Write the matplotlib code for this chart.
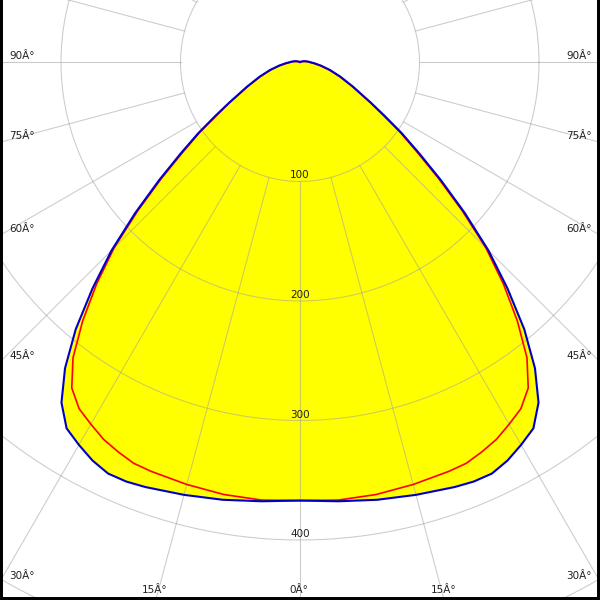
"""
Polar luminous intensity diagram (cd/klm), two C-planes
"""
import numpy as np
import matplotlib
matplotlib.use("Agg")
import matplotlib.pyplot as plt

# gamma angles (deg) and intensities for the two planes
gamma = [0, 5, 10, 15, 20, 22.5, 25, 27.5, 30, 32.5, 35, 37.5, 40, 42.5, 45,
	47.5, 50, 52.5, 55, 57.5, 60, 65, 70, 75, 80, 85, 90, 95, 100, 105, 110, 120, 180]
plane_blue = [367, 369, 372, 375, 378.5, 380, 380, 376, 370, 363.5, 348, 323, 292, 257, 223,
	187, 154, 126, 104, 84, 69, 49, 36, 26, 18, 12, 8, 6, 4, 2, 0, 0, 0]
plane_red = [367, 368, 367.5, 366, 364.5, 363.5, 360, 356, 350, 344, 333, 312, 283, 252, 220,
	184, 151, 123, 102, 82, 68, 48, 35, 25, 17, 11, 7, 5, 3, 1, 0, 0, 0]

ring_values = [100, 200, 300, 400, 500]
ring_labels = ["100", "200", "300", "400"]
label_angles = [0, 15, 30, 45, 60, 75, 90]
angle_labels = ["0Â°", "15Â°", "30Â°", "45Â°", "60Â°", "75Â°", "90Â°"]

px = 1.195  # pixels per cd
xmin, xmax = -300 / px, 300 / px
ymin, ymax = -538 / px, 62 / px


def to_xy(g, r, side):
	g = np.radians(np.asarray(g, dtype=float))
	r = np.asarray(r, dtype=float)
	return side * r * np.sin(g), -r * np.cos(g)


def curve(g, r):
	xl, yl = to_xy(g[::-1], r[::-1], -1)
	xr, yr = to_xy(g, r, 1)
	return np.concatenate([xl, xr]), np.concatenate([yl, yr])


fig = plt.figure(figsize=(6, 6), dpi=100)
ax = fig.add_axes([0, 0, 1, 1])
ax.set_xlim(xmin, xmax)
ax.set_ylim(ymin, ymax)
ax.set_aspect("equal")
ax.set_xticks([])
ax.set_yticks([])
for s in ["left", "right", "bottom"]:
	ax.spines[s].set_linewidth(4.3)
	ax.spines[s].set_color("black")
ax.spines["top"].set_visible(False)

bx, by = curve(gamma, plane_blue)
rx, ry = curve(gamma, plane_red)
ax.fill(bx, by, color="#ffff00", lw=0, zorder=1)
ax.fill(rx, ry, color="#ffff00", lw=0, zorder=1)

# grid
t = np.linspace(0, 2 * np.pi, 720)
grid_kw = dict(color="#a0a0a0", lw=0.75, alpha=0.55, zorder=2)
for v in ring_values:
	ax.plot(v * np.cos(t), v * np.sin(t), **grid_kw)
for a in range(0, 360, 15):
	ar = np.radians(a)
	ax.plot([100 * np.sin(ar), 700 * np.sin(ar)], [-100 * np.cos(ar), -700 * np.cos(ar)], **grid_kw)

ax.plot(rx, ry, color="#ff0000", lw=1.2, zorder=3)
ax.plot(bx, by, color="#0000c8", lw=1.5, zorder=4)

txt = dict(fontsize=7.5, color="#202020", zorder=5, family="DejaVu Sans")
for v, lab in zip(ring_values, ring_labels):
	ax.text(0, -v + 3 / px, lab, ha="center", va="baseline", **txt)

for a, lab in zip(label_angles, angle_labels):
	ar = np.radians(a)
	for side in [-1, 1]:
		dx, dy = side * np.sin(ar), -np.cos(ar)
		t_side = xmax / abs(dx) if dx != 0 else np.inf
		t_bot = ymin / dy
		if t_side < t_bot:
			y = dy * t_side
			if side < 0:
				ax.text(xmin + 9 / px, y + 3 / px, lab, ha="left", va="baseline", **txt)
			else:
				ax.text(xmax - 8 / px, y + 3 / px, lab, ha="right", va="baseline", **txt)
		else:
			x = dx * t_bot
			ax.text(x - 1 / px, ymin + 7 / px, lab, ha="center", va="baseline", **txt)
			if a == 0:
				break

fig.savefig("out.png", dpi=100)
